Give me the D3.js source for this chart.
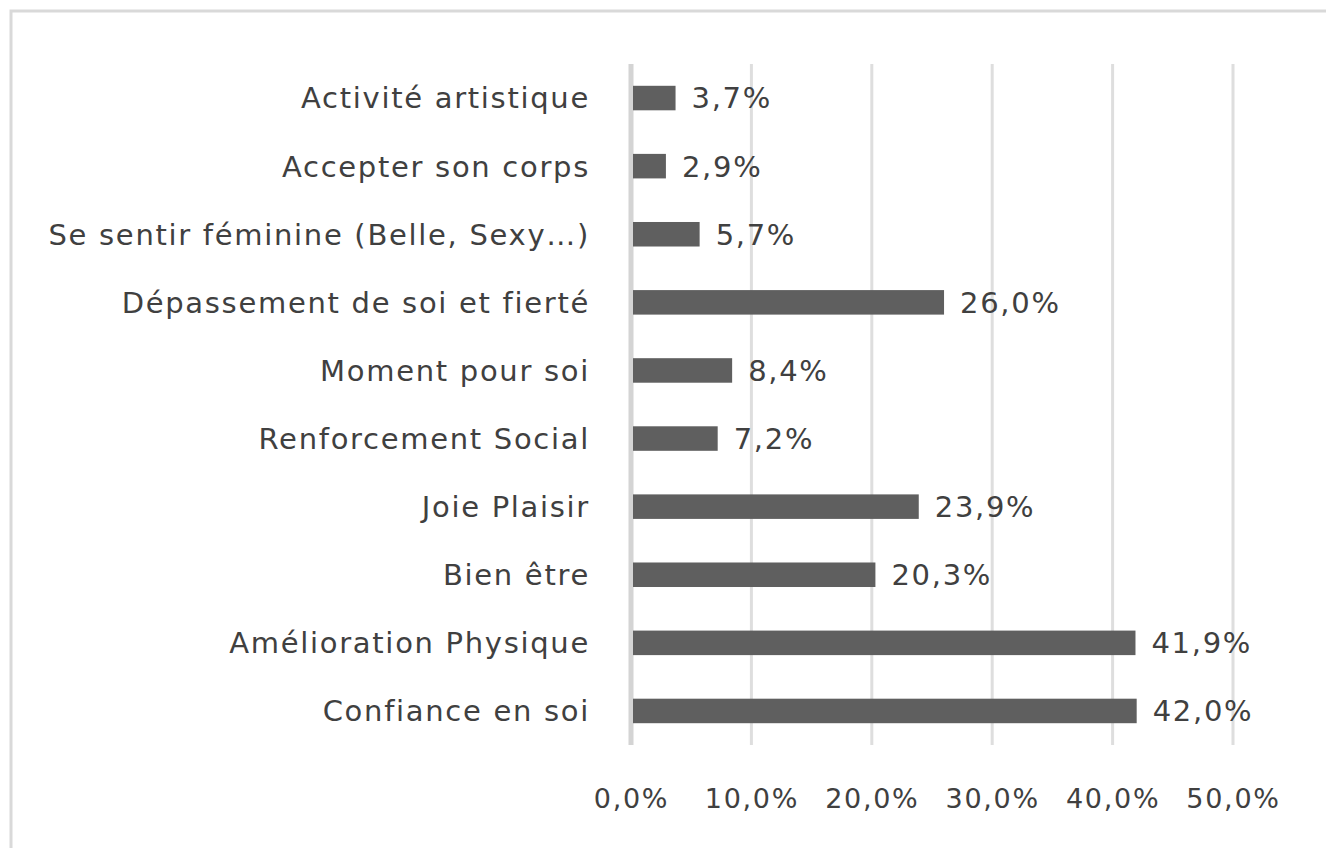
<!DOCTYPE html>
<html>
<head>
<meta charset="utf-8">
<script src="https://cdn.jsdelivr.net/npm/d3@7"></script>
<style>
  body { margin: 0; background: #fff; }
  text { font-family: "DejaVu Sans", sans-serif; letter-spacing: 1.7px; }
</style>
</head>
<body>
<svg id="chart" width="1326" height="848"></svg>
<script>
// categories from top to bottom
var categories = [
    'Activité artistique',
    'Accepter son corps',
    'Se sentir féminine (Belle, Sexy…)',
    'Dépassement de soi et fierté',
    'Moment pour soi',
    'Renforcement Social',
    'Joie Plaisir',
    'Bien être',
    'Amélioration Physique',
    'Confiance en soi'
];
var values = [3.7, 2.9, 5.7, 26.0, 8.4, 7.2, 23.9, 20.3, 41.9, 42.0];
var ticks = [0, 10, 20, 30, 40, 50];

var svg = d3.select('#chart');

// outer frame (cut by the picture on right and bottom)
svg.append('rect')
    .attr('x', 11).attr('y', 11)
    .attr('width', 1400).attr('height', 900)
    .attr('fill', 'none')
    .attr('stroke', '#d9d9d9')
    .attr('stroke-width', 3);

var padding = {t: 64, l: 631, r: 94, b: 103};
var chartW = 1326 - padding.l - padding.r;
var chartH = 848 - padding.t - padding.b;

var xScale = d3.scaleLinear().domain([0, 50]).range([0, 602]);
var yScale = d3.scaleBand().domain(categories).range([0, chartH]).paddingInner(0.64).paddingOuter(0.32);

var chartG = svg.append('g')
    .attr('transform', 'translate(' + [padding.l, padding.t] + ')');

// gridlines
chartG.selectAll('.grid')
    .data(ticks)
    .enter().append('line')
    .attr('class', 'grid')
    .attr('x1', function(d) { return xScale(d); })
    .attr('x2', function(d) { return xScale(d); })
    .attr('y1', 0)
    .attr('y2', chartH)
    .attr('stroke', function(d) { return d === 0 ? '#d4d4d4' : '#dedede'; })
    .attr('stroke-width', function(d) { return d === 0 ? 5 : 3; });

// bars
chartG.selectAll('.bar')
    .data(values)
    .enter().append('rect')
    .attr('class', 'bar')
    .attr('x', xScale(0) + 2)
    .attr('y', function(d, i) { return yScale(categories[i]); })
    .attr('width', function(d) { return xScale(d) - 2; })
    .attr('height', yScale.bandwidth())
    .attr('fill', '#5f5f5f');

// value labels
chartG.selectAll('.val')
    .data(values)
    .enter().append('text')
    .attr('class', 'val')
    .attr('x', function(d) { return xScale(d) + 16; })
    .attr('y', function(d, i) { return yScale(categories[i]) + yScale.bandwidth() / 2; })
    .attr('dy', '0.36em')
    .attr('font-size', '29px')
    .attr('fill', '#404040')
    .text(function(d) { return d.toFixed(1).replace('.', ',') + '%'; });

// category labels
chartG.selectAll('.cat')
    .data(categories)
    .enter().append('text')
    .attr('class', 'cat')
    .attr('x', -41)
    .attr('y', function(d) { return yScale(d) + yScale.bandwidth() / 2; })
    .attr('dy', '0.36em')
    .attr('text-anchor', 'end')
    .attr('font-size', '29px')
    .attr('fill', '#404040')
    .text(function(d) { return d; });

// x axis labels
var xAxis = d3.axisBottom(xScale)
    .tickValues(ticks)
    .tickSize(0)
    .tickPadding(0)
    .tickFormat(function(d) { return d.toFixed(1).replace('.', ',') + '%'; });

var axisG = chartG.append('g')
    .attr('transform', 'translate(0,' + (chartH + 44) + ')')
    .call(xAxis);
axisG.select('.domain').remove();
axisG.selectAll('text')
    .attr('font-family', '"DejaVu Sans", sans-serif')
    .attr('font-size', '27px')
    .attr('fill', '#404040');
</script>
</body>
</html>
